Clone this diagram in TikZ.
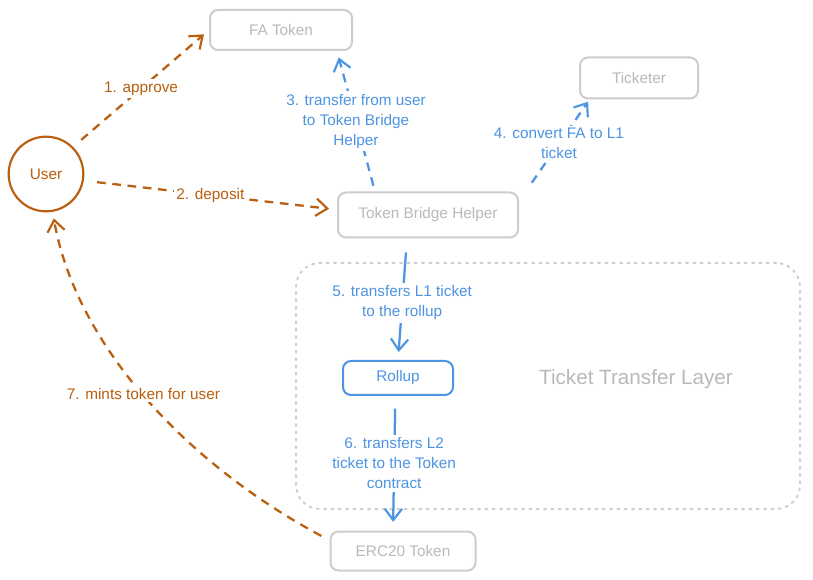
\documentclass[tikz,border=0pt]{standalone}
\usepackage{fontspec}
\setmainfont{Liberation Sans}
\usetikzlibrary{arrows.meta}
\definecolor{org}{RGB}{185,95,15}
\definecolor{blu}{RGB}{77,148,225}
\definecolor{gry}{RGB}{205,205,205}
\definecolor{gtxt}{RGB}{185,185,185}
\begin{document}
\begin{tikzpicture}[x=0.75pt,y=-0.75pt,
  every node/.style={font=\fontsize{11.5}{15}\selectfont},
  box/.style={draw=gry, line width=1.5pt, rounded corners=6pt, text=gtxt, inner sep=0pt},
  bluebox/.style={draw=blu, line width=1.5pt, rounded corners=6pt, text=blu, inner sep=0pt},
  userc/.style={circle, draw=org, line width=1.6pt, text=org, minimum size=56pt, inner sep=0pt},
  container/.style={draw=gry, line width=1.5pt, dash pattern=on 1.5pt off 4pt, line cap=round, rounded corners=18pt, inner sep=0pt},
  tip/.style={-{Straight Barb[length=8.5pt,width=13pt,line width=1.6pt]}},
  oarrow/.style={tip, draw=org, line width=1.7pt, dash pattern=on 6.5pt off 5pt},
  barrow/.style={tip, draw=blu, line width=1.7pt, dash pattern=on 6.5pt off 5pt},
  bsolid/.style={tip, draw=blu, line width=1.7pt},
  olbl/.style={fill=white, text=org, align=center, inner sep=2pt},
  blbl/.style={fill=white, text=blu, align=center, inner sep=2pt}
]
\useasboundingbox (0,0) rectangle (813,580);
\fill[white] (0,0) rectangle (813,580);

% container
\node[container, minimum width=378pt, minimum height=184.5pt] (ttl) at (548,386) {};
\node[text=gtxt, font=\fontsize{15.5}{18}\selectfont] (ttllbl) at (636,379) {Ticket Transfer Layer};

% nodes
\node[box, minimum width=106.5pt, minimum height=30pt] (fa) at (281,30) {FA Token};
\node[box, minimum width=88.5pt, minimum height=30.75pt] (tkt) at (639,78) {Ticketer};
\node[userc] (user) at (46,174) {User};
\node[box, minimum width=135pt, minimum height=33.75pt] (tbh) at (428,215) {Token Bridge Helper};
\node[bluebox, minimum width=82.5pt, minimum height=25.5pt] (roll) at (398,378) {Rollup};
\node[box, minimum width=108.75pt, minimum height=29.25pt] (erc) at (403,551) {ERC20 Token};

% connectors
\draw[oarrow, shorten <=8pt, shorten >=5pt] (user.45) -- (fa.west)
  node[olbl, pos=0.5] {1. approve};
\draw[oarrow, shorten <=10pt, shorten >=6pt] (user.-10) -- ([yshift=4pt]tbh.west)
  node[olbl, pos=0.5] {2. deposit};
\draw[barrow, shorten <=4.5pt, shorten >=5pt] ([xshift=-39.75pt]tbh.north) -- ([xshift=42pt]fa.south)
  node[blbl, pos=0.5] {3. transfer from user\\to Token Bridge\\Helper};
\draw[barrow, shorten <=8pt, shorten >=2pt] ([xshift=5pt]tbh.north east) -- ([xshift=8pt]tkt.south west)
  node[blbl, pos=0.52] {4. convert FA to L1\\ticket};
\draw[bsolid, shorten <=10.5pt, shorten >=6pt] ([xshift=-15.75pt]tbh.south) -- (roll.north)
  node[blbl, pos=0.53] {5. transfers L1 ticket\\to the rollup};
\draw[bsolid, shorten <=9.5pt, shorten >=6.5pt] ([xshift=-2pt]roll.south) -- ([xshift=-7.5pt]erc.north)
  node[blbl, pos=0.5] {6. transfers L2\\ticket to the Token\\contract};
\draw[oarrow, shorten <=7pt, shorten >=5pt] ([yshift=8pt]erc.west) .. controls (180,460) and (75,340) .. (user.-80)
  node[olbl, pos=0.5] {7. mints token for user};
\end{tikzpicture}
\end{document}
